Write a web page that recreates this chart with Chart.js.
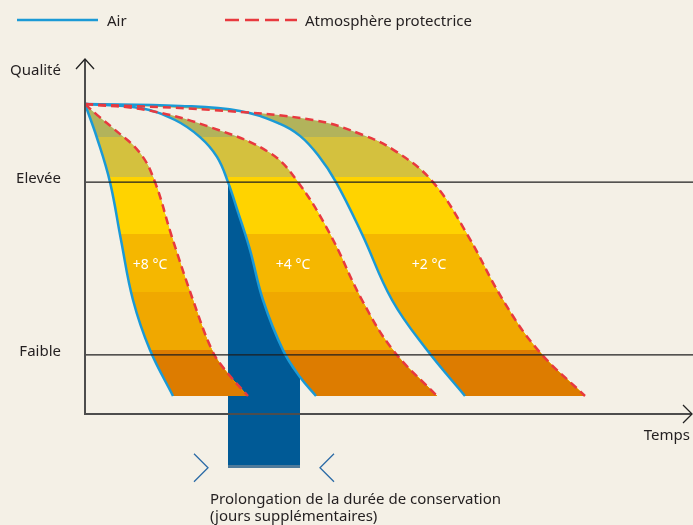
<!DOCTYPE html>
<html>
<head>
<meta charset="utf-8">
<script src="https://cdn.jsdelivr.net/npm/chart.js@4.4.1/dist/chart.umd.min.js"></script>
<style>
  html, body { margin: 0; padding: 0; background: #f4f0e6; }
  #wrap { width: 693px; height: 525px; }
</style>
</head>
<body>
<div id="wrap"><canvas id="chart"></canvas></div>
<script>
// [time, quality] (arbitrary units)
const air8 = [[0, 103.3], [2.4, 92], [5, 77.3], [7.2, 58], [9.6, 38], [13, 21.3], [17.6, 6]];
const air4 = [[0, 103.3], [11, 102], [18, 98], [23, 92.3], [26.4, 85.7], [28.6, 77.3], [30.6, 67.3], [33, 54.7], [35.6, 38], [39.6, 21.3], [43, 12.3], [46.2, 6]];
const air2 = [[0, 103.3], [19, 102.7], [31, 101], [39, 96.7], [43, 92.7], [46.6, 86.3], [50.2, 77.3], [55.4, 60], [61.4, 38], [68.4, 21.3], [76, 6]];
const map8 = [[0, 103.3], [2.4, 99.7], [5.6, 95.3], [11, 87], [14, 77.3], [17.2, 60], [21.6, 38], [25.4, 21.3], [28, 14.7], [32.6, 6]];
const map4 = [[0, 103.3], [12.4, 101.3], [25.6, 95.3], [37, 87], [42.6, 77.3], [49, 60], [55.4, 38], [61.6, 21.3], [70.4, 6]];
const map2 = [[0, 103.3], [25.6, 101.3], [45.6, 98], [55.6, 93], [62.4, 87.3], [69.6, 77.3], [76.4, 60], [83.6, 38], [90.6, 21.3], [100, 6]];

const tempLabels = ['+8 °C', '+4 °C', '+2 °C'];
const tempLabelTime = [13, 41.6, 68.8];
const tempLabelQuality = 49.7;

const levelQuality = [77.3, 19.7];
const levelNames = ['Elevée', 'Faible'];

// quality where each colour band starts (top to bottom)
const bandTops = [118, 92.5, 79, 60, 40.7, 21.3];
const bandColors = ['#b2b35b', '#d4c13e', '#ffd300', '#f5b700', '#f0a800', '#dd7c00'];

// extra shelf life: time range and how far it hangs below the axis
const gainTime = [28.6, 43];
const gainLow = -17.9;

const BLUE = '#1b9ad6';
const RED = '#e8393f';
const TEXT = '#231f20';
const FONT = '"Noto Sans", sans-serif';

function pts(arr) {
    return arr.map(([x, y]) => ({x, y}));
}

function curve(label, data, color, dash, order) {
    return {
        type: 'line', label, data: pts(data),
        borderColor: color, borderWidth: 2.5, borderDash: dash,
        pointRadius: 0, fill: false, tension: 0.4, order
    };
}

// blue index, red index for each temperature
const pairs = [[3, 0], [4, 1], [5, 2]];

const decor = {
    id: 'decor',
    beforeDraw(chart) {
        const ctx = chart.ctx;
        ctx.save();
        ctx.fillStyle = '#f4f0e6';
        ctx.fillRect(0, 0, chart.width, chart.height);
        ctx.restore();
    },
    afterDatasetDraw(chart, args) {
        if (args.meta.type !== 'bar') return;
        const ctx = chart.ctx, area = chart.chartArea, y = chart.scales.y;
        pairs.forEach(([bi, ri]) => {
            const blue = chart.getDatasetMeta(bi).dataset;
            const red = chart.getDatasetMeta(ri).dataset;
            blue.updateControlPoints(area, 'x');
            red.updateControlPoints(area, 'x');
            bandTops.forEach((q, k) => {
                const top = Math.round(y.getPixelForValue(q));
                ctx.save();
                ctx.beginPath();
                ctx.rect(0, top, chart.width, chart.height - top);
                ctx.clip();
                ctx.beginPath();
                blue.pathSegment(ctx, blue.segments[0], {move: true});
                red.pathSegment(ctx, red.segments[0], {move: false, reverse: true});
                ctx.closePath();
                ctx.fillStyle = bandColors[k];
                ctx.fill();
                ctx.restore();
            });
        });
    },
    afterDatasetsDraw(chart) {
        const ctx = chart.ctx, area = chart.chartArea;
        const x = chart.scales.x, y = chart.scales.y;
        const W = chart.width;
        ctx.save();

        // quality levels
        ctx.strokeStyle = '#1e1e1e';
        ctx.lineWidth = 1.3;
        ctx.font = '15px ' + FONT;
        ctx.fillStyle = TEXT;
        ctx.textAlign = 'right';
        ctx.textBaseline = 'alphabetic';
        levelQuality.forEach((q, i) => {
            const py = y.getPixelForValue(q);
            ctx.beginPath();
            ctx.moveTo(area.left, py);
            ctx.lineTo(W, py);
            ctx.stroke();
            ctx.fillText(levelNames[i], 61, py + 1);
        });

        // axes with arrows
        ctx.strokeStyle = '#4d4d4d';
        ctx.lineWidth = 2;
        ctx.beginPath();
        ctx.moveTo(area.left, area.top - 1);
        ctx.lineTo(area.left, area.bottom);
        ctx.lineTo(W - 1, area.bottom);
        ctx.stroke();
        ctx.strokeStyle = '#222';
        ctx.lineWidth = 1.3;
        ctx.beginPath();
        ctx.moveTo(area.left - 9, area.top + 9);
        ctx.lineTo(area.left, area.top - 1);
        ctx.lineTo(area.left + 9, area.top + 9);
        ctx.moveTo(W - 10, area.bottom - 9);
        ctx.lineTo(W - 1, area.bottom);
        ctx.lineTo(W - 10, area.bottom + 9);
        ctx.stroke();

        ctx.fillText('Qualité', 61, 75);
        ctx.fillText('Temps', 690, 440);

        // temperature labels
        ctx.fillStyle = '#ffffff';
        ctx.font = '14px ' + FONT;
        ctx.textAlign = 'center';
        ctx.textBaseline = 'middle';
        tempLabels.forEach((t, i) => {
            ctx.fillText(t, x.getPixelForValue(tempLabelTime[i]), y.getPixelForValue(tempLabelQuality));
        });

        // chevrons around the gain bar
        const xl = x.getPixelForValue(gainTime[0]) - 20;
        const xr = x.getPixelForValue(gainTime[1]) + 20;
        const ym = y.getPixelForValue(gainLow);
        ctx.strokeStyle = '#2b6ba6';
        ctx.lineWidth = 1.3;
        ctx.beginPath();
        ctx.moveTo(xl - 14, ym - 14);
        ctx.lineTo(xl, ym);
        ctx.lineTo(xl - 14, ym + 14);
        ctx.moveTo(xr + 14, ym - 14);
        ctx.lineTo(xr, ym);
        ctx.lineTo(xr + 14, ym + 14);
        ctx.stroke();

        ctx.fillStyle = TEXT;
        ctx.font = '15px ' + FONT;
        ctx.textAlign = 'left';
        ctx.textBaseline = 'alphabetic';
        ctx.fillText('Prolongation de la durée de conservation', 210, 504);
        ctx.fillText('(jours supplémentaires)', 210, 521);

        // legend
        const ds = chart.data.datasets;
        ctx.lineWidth = 2.5;
        ctx.strokeStyle = ds[3].borderColor;
        ctx.setLineDash([]);
        ctx.beginPath();
        ctx.moveTo(17, 20);
        ctx.lineTo(98, 20);
        ctx.stroke();
        ctx.strokeStyle = ds[0].borderColor;
        ctx.setLineDash([14, 6]);
        ctx.beginPath();
        ctx.moveTo(225, 20);
        ctx.lineTo(297, 20);
        ctx.stroke();
        ctx.setLineDash([]);
        ctx.fillText(ds[3].label, 107, 26);
        ctx.fillText(ds[0].label, 305, 26);

        ctx.restore();
    }
};

new Chart(document.getElementById('chart'), {
    type: 'line',
    data: {
        datasets: [
            curve('Atmosphère protectrice', map8, RED, [8, 5], 0),
            curve('Atmosphère protectrice', map4, RED, [8, 5], 0),
            curve('Atmosphère protectrice', map2, RED, [8, 5], 0),
            curve('Air', air8, BLUE, [], 1),
            curve('Air', air4, BLUE, [], 1),
            curve('Air', air2, BLUE, [], 1),
            {
                type: 'bar',
                label: 'Prolongation',
                data: [{x: (gainTime[0] + gainTime[1]) / 2, y: [gainLow, levelQuality[0]]}],
                backgroundColor: '#005a96',
                borderColor: '#4f7b9b',
                borderWidth: {top: 0, left: 0, right: 0, bottom: 3},
                borderSkipped: false,
                barThickness: 72,
                clip: false,
                order: 2
            }
        ]
    },
    options: {
        responsive: true,
        maintainAspectRatio: false,
        animation: false,
        events: [],
        layout: {padding: {left: 85, right: 3, top: 60, bottom: 111}},
        scales: {
            x: {type: 'linear', min: 0, max: 121, display: false, offset: false},
            y: {type: 'linear', min: 0, max: 118, display: false}
        },
        plugins: {
            legend: {display: false},
            tooltip: {enabled: false}
        }
    },
    plugins: [decor]
});
</script>
</body>
</html>
